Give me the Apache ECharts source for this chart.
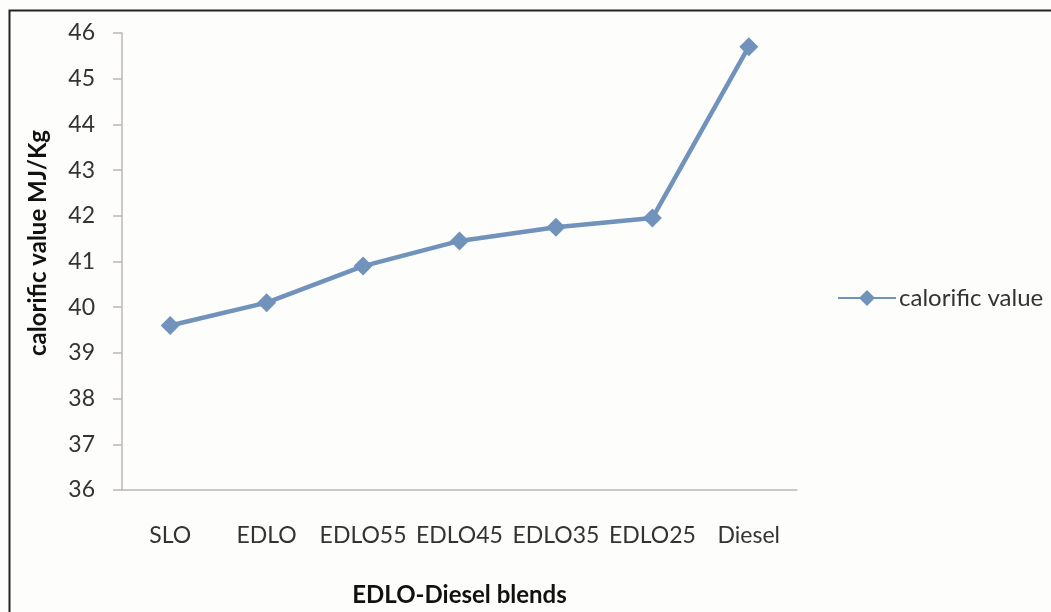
<!DOCTYPE html>
<html>
<head>
<meta charset="utf-8">
<script src="https://cdn.jsdelivr.net/npm/echarts@6/dist/echarts.min.js"></script>
<style>
  html, body { margin: 0; padding: 0; background: #fdfdfb; }
  #chart { width: 1051px; height: 612px; }
</style>
</head>
<body>
<div id="chart"></div>
<script>
// Calorific value of EDLO-Diesel blends
const categories = ['SLO', 'EDLO', 'EDLO55', 'EDLO45', 'EDLO35', 'EDLO25', 'Diesel'];
const calorificValue = [39.6, 40.1, 40.9, 41.45, 41.75, 41.95, 45.7];
const seriesName = 'calorific value';
const yTicks = { min: 36, max: 46, interval: 1 };

const FONT = 'Lato, "Open Sans", sans-serif';
const LINE_COLOR = '#7092bb';

const chart = echarts.init(document.getElementById('chart'), null, { renderer: 'canvas' });
chart.setOption({
  backgroundColor: '#fdfdfb',
  animation: false,
  graphic: [
    {
      type: 'rect',
      shape: { x: 9.5, y: 10.5, width: 1100, height: 700 },
      style: { fill: 'none', stroke: '#222', lineWidth: 2 },
      silent: true
    },
    {
      type: 'text',
      x: 38, y: 243,
      rotation: Math.PI / 2,
      style: {
        text: 'calorific value MJ/Kg',
        font: 'bold 24px ' + FONT,
        fill: '#111',
        align: 'center',
        verticalAlign: 'middle'
      }
    }
  ],
  legend: {
    data: [seriesName],
    left: 832,
    top: 281,
    itemWidth: 58,
    itemHeight: 20,
    itemGap: 4,
    textStyle: { fontFamily: FONT, fontSize: 24, color: '#333', padding: [0, 0, 0, -2] }
  },
  grid: { left: 122, top: 33, right: 254, bottom: 122, containLabel: false },
  xAxis: {
    type: 'category',
    data: categories,
    boundaryGap: true,
    name: 'EDLO-Diesel blends',
    nameLocation: 'middle',
    nameGap: 93,
    nameTextStyle: { fontFamily: FONT, fontSize: 24, fontWeight: 'bold', color: '#111' },
    axisLine: { lineStyle: { color: '#bdb5b5', width: 1.5 } },
    axisTick: { show: false },
    axisLabel: { interval: 0, fontFamily: FONT, fontSize: 23, color: '#333', margin: 34 }
  },
  yAxis: {
    type: 'value',
    min: yTicks.min,
    max: yTicks.max,
    interval: yTicks.interval,
    axisLine: { show: true, lineStyle: { color: '#bdb5b5', width: 1.5 } },
    axisTick: { show: true, length: 9, lineStyle: { color: '#bdb5b5', width: 1.5 } },
    splitLine: { show: false },
    axisLabel: { fontFamily: FONT, fontSize: 23, color: '#333', margin: 27 }
  },
  series: [{
    name: seriesName,
    type: 'line',
    data: calorificValue,
    symbol: 'diamond',
    symbolSize: 19,
    lineStyle: { color: LINE_COLOR, width: 4.5 },
    itemStyle: { color: LINE_COLOR }
  }]
});
</script>
</body>
</html>
